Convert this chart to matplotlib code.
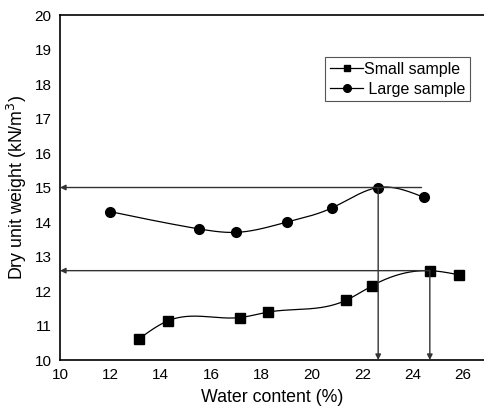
import numpy as np
import matplotlib
matplotlib.use("Agg")
from matplotlib import pyplot as plt

plt.rcParams['font.family'] = ['Liberation Sans', 'DejaVu Sans']

# dados
agua_pequena = [13.13, 14.3, 17.13, 18.27, 21.35, 22.38, 24.68, 25.83]
peso_pequena = [10.61, 11.14, 11.23, 11.39, 11.73, 12.15, 12.59, 12.47]
agua_grande = [12.0, 15.52, 17.0, 19.02, 20.8, 22.63, 24.43]
peso_grande = [14.3, 13.8, 13.7, 14.0, 14.41, 15.0, 14.72]

# maximos (setas)
max_grande = (22.63, 15.0)
max_pequena = (24.68, 12.59)


def spline(x, y, n=300):
    # spline cubica natural, so para desenhar a curva suave
    x = np.asarray(x, float)
    y = np.asarray(y, float)
    k = len(x)
    h = np.diff(x)
    A = np.zeros((k, k))
    b = np.zeros(k)
    A[0, 0] = A[-1, -1] = 1
    for i in range(1, k - 1):
        A[i, i - 1] = h[i - 1]
        A[i, i] = 2 * (h[i - 1] + h[i])
        A[i, i + 1] = h[i]
        b[i] = 6 * ((y[i + 1] - y[i]) / h[i] - (y[i] - y[i - 1]) / h[i - 1])
    M = np.linalg.solve(A, b)
    xs = np.linspace(x[0], x[-1], n)
    j = np.clip(np.searchsorted(x, xs) - 1, 0, k - 2)
    t1 = x[j + 1] - xs
    t0 = xs - x[j]
    hj = h[j]
    ys = (M[j] * t1**3 + M[j + 1] * t0**3) / (6 * hj) \
        + (y[j] / hj - M[j] * hj / 6) * t1 + (y[j + 1] / hj - M[j + 1] * hj / 6) * t0
    return xs, ys


fig = plt.figure(figsize=(4.85, 4.16), dpi=100)
ax = fig.add_axes([0.1237, 0.1346, 0.8763, 0.8293])

xs, ys = spline(agua_pequena, peso_pequena)
ax.plot(xs, ys, color='black', lw=0.9)
xs, ys = spline(agua_grande, peso_grande)
ax.plot(xs, ys, color='black', lw=0.9)

ax.plot(agua_pequena, peso_pequena, 's', color='black', ms=6.5)
ax.plot(agua_grande, peso_grande, 'o', color='black', ms=7)

# legenda feita a mao com linhas vazias
ax.plot([], [], '-s', color='black', ms=5, lw=0.9, label='Small sample')
ax.plot([], [], '-o', color='black', ms=5.5, lw=0.9, label=' Large sample')

seta = dict(arrowstyle='-|>', color='#333333', lw=1.0, mutation_scale=8, shrinkA=0, shrinkB=0)
ax.annotate('', xy=(10, max_grande[1]), xytext=(24.35, max_grande[1]), arrowprops=seta)
ax.annotate('', xy=(10, max_pequena[1]), xytext=(max_pequena[0], max_pequena[1]), arrowprops=seta)
ax.annotate('', xy=(max_grande[0], 10), xytext=max_grande, arrowprops=seta)
ax.annotate('', xy=(max_pequena[0], 10), xytext=max_pequena, arrowprops=seta)

ax.set_xlim(10, 26.87)
ax.set_ylim(10, 20)
ax.set_xticks(range(10, 27, 2))
ax.set_yticks(range(10, 21))
ax.tick_params(length=0, labelsize=11, pad=6)
ax.spines['right'].set_visible(False)
for s in ['left', 'bottom', 'top']:
    ax.spines[s].set_linewidth(1.2)

ax.set_xlabel("Water content (%)", fontsize=12.8, labelpad=5)
ax.set_ylabel("Dry unit weight (kN/m$^3$)", fontsize=12.8, labelpad=4)

leg = ax.legend(loc='upper left', bbox_to_anchor=(0.6235, 0.878), fontsize=11.5,
                handlelength=2.1, handletextpad=0.05, borderpad=0.3, labelspacing=0.3,
                borderaxespad=0, fancybox=False, framealpha=1)
leg.get_frame().set_edgecolor('#555555')
leg.get_frame().set_linewidth(0.8)

plt.savefig('out.png', dpi=100)
